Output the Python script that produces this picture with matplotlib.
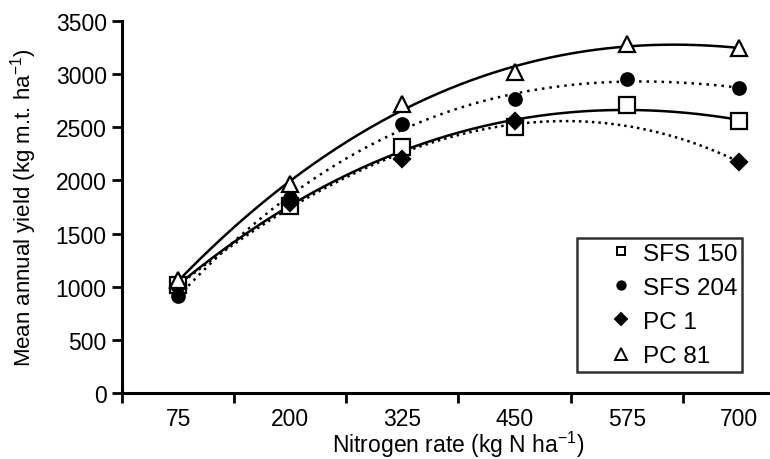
import numpy as np
import matplotlib
matplotlib.use("Agg")
import matplotlib.pyplot as plt

plt.rcParams["font.family"] = ["Liberation Sans", "DejaVu Sans"]
plt.rcParams["mathtext.default"] = "regular"

rates = ["75", "200", "325", "450", "575", "700"]
sfs150 = [1015, 1760, 2315, 2505, 2710, 2558]
sfs204 = [912, 1830, 2530, 2770, 2950, 2870]
pc1 = [1000, 1790, 2197, 2560, np.nan, 2172]
pc81 = [1060, 1965, 2718, 3020, 3285, 3242]

series = [
    ("SFS 150", sfs150, "s", "white", "-"),
    ("SFS 204", sfs204, "o", "black", (0, (1, 2))),
    ("PC 1", pc1, "D", "black", (0, (1, 1.6))),
    ("PC 81", pc81, "^", "white", "-"),
]

fig = plt.figure(figsize=(7.7, 4.6), dpi=100)
ax = fig.add_axes([122 / 770, 1 - 394 / 460, 673 / 770, 372 / 460])

xs = np.arange(len(rates))
xf = np.linspace(0, len(rates) - 1, 200)
for name, vals, mk, fc, ls in series:
    y = np.array(vals, dtype=float)
    ok = ~np.isnan(y)
    coef = np.polyfit(xs[ok], y[ok], 3)
    ax.plot(xf, np.polyval(coef, xf), color="black", lw=1.8, ls=ls, zorder=2)
    ms = 9 if mk == "o" else (8 if mk == "D" else 11)
    ax.plot(xs, y, ls="none", marker=mk, ms=ms, mfc=fc, mec="black",
            mew=1.6, zorder=3, label=name)

ax.set_xlim(-0.5, len(rates) - 0.5)
ax.set_ylim(0, 3500)
ax.set_yticks(np.arange(0, 3501, 500))
ax.set_xticks(np.arange(-0.5, len(rates) - 0.4, 1))
ax.set_xticklabels([])
ax.set_xticks(xs, minor=True)
ax.set_xticklabels(rates, minor=True)
ax.tick_params(axis="x", which="minor", length=0, pad=10, labelsize=16.5)
ax.tick_params(axis="x", which="major", length=7, width=2)
ax.tick_params(axis="y", length=7, width=2, labelsize=16.5, pad=4)

for s in ("top", "right"):
    ax.spines[s].set_visible(False)
for s in ("left", "bottom"):
    ax.spines[s].set_linewidth(2.2)

ax.set_xlabel("Nitrogen rate (kg N ha$^{-1}$)", fontsize=16.5, labelpad=-1)
ax.set_ylabel("Mean annual yield (kg m.t. ha$^{-1}$)", fontsize=16, labelpad=12)

leg_h = []
for name, vals, mk, fc, ls in series:
    leg_h.append(plt.Line2D([], [], ls="none", marker=mk, ms=6 if mk != "^" else 8,
                            mfc=fc, mec="black", mew=1.4))
leg = ax.legend(leg_h, [s[0] for s in series], loc="lower right",
                bbox_to_anchor=(742 / 770, 1 - 373 / 460), bbox_transform=fig.transFigure,
                fontsize=17.5, frameon=True, fancybox=False, edgecolor="black",
                handlelength=3.2, handletextpad=-0.7, labelspacing=0.5, borderpad=0.2,
                borderaxespad=0)
leg.get_frame().set_linewidth(1.8)

fig.savefig("out.png", dpi=100)
